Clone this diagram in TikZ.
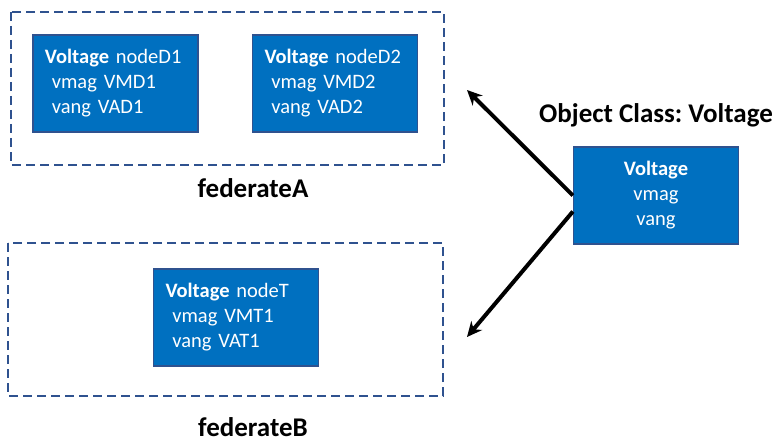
\documentclass[tikz,border=0pt]{standalone}
\usepackage{fontspec}
\setmainfont{Carlito}
\usetikzlibrary{arrows.meta}
\definecolor{boxblue}{HTML}{0070C0}
\definecolor{edgeblue}{HTML}{2F528F}
\frenchspacing

\begin{document}
\begin{tikzpicture}[x=1pt, y=-1pt,
    objbox/.style={draw=edgeblue, line width=1.2pt, fill=boxblue, text=white,
        minimum width=165pt, minimum height=97pt, font=\fontsize{20.5}{25}\selectfont},
    fedbox/.style={draw=edgeblue, line width=1.5pt, dash pattern=on 9pt off 5pt},
    fedlabel/.style={font=\fontsize{27}{30}\selectfont\bfseries},
    pub/.style={line width=4pt, -{Stealth[length=15pt, width=14pt]}}]
    \useasboundingbox (0,0) rectangle (780,444);

    % federate frames
    \draw[fedbox] (11,12) rectangle (444,165);
    \draw[fedbox] (8,243) rectangle (443,396);
    \node[fedlabel] (labA) at (253,188) {federateA};
    \node[fedlabel] (labB) at (253,427) {federateB};

    % instances
    \node[objbox, align=left, text width=141pt] (nodeD1) at (115.5,83.5)
        {\textbf{Voltage} nodeD1\\ \ vmag VMD1\\ \ vang VAD1};
    \node[objbox, align=left, text width=141pt] (nodeD2) at (335,83.5)
        {\textbf{Voltage} nodeD2\\ \ vmag VMD2\\ \ vang VAD2};
    \node[objbox, align=left, text width=141pt] (nodeT) at (236,317.5)
        {\textbf{Voltage} nodeT\\ \ vmag VMT1\\ \ vang VAT1};

    % object class
    \node[objbox, align=center] (cls) at (656,195.5)
        {\textbf{Voltage}\\vmag\\vang};
    \node[fedlabel] (clsname) at (656,115) {Object Class: Voltage};

    % publication arrows
    \coordinate (toA) at (467,90);
    \coordinate (toB) at (467,337);
    \draw[pub] (cls.west) -- (toA);
    \draw[pub] ([yshift=-16pt]cls.west) -- (toB);
\end{tikzpicture}
\end{document}
